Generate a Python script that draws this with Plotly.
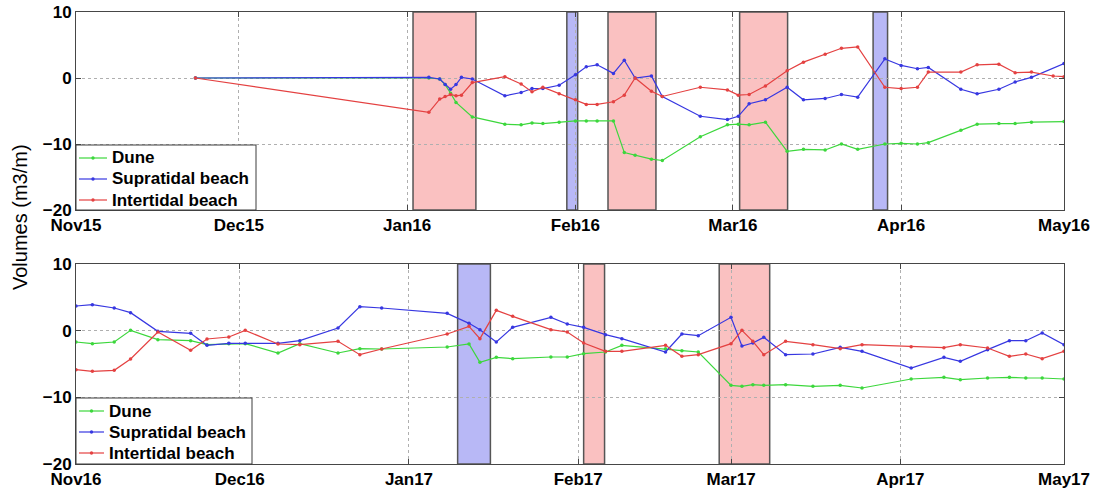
import plotly.graph_objects as go

# ---------------- Data: top panel (2015-2016) ----------------
TOP_DATES = ["2015-11-23", "2016-01-05", "2016-01-07", "2016-01-08", "2016-01-09", "2016-01-10",
             "2016-01-11", "2016-01-13", "2016-01-19", "2016-01-22", "2016-01-24", "2016-01-26",
             "2016-01-29", "2016-02-01", "2016-02-03", "2016-02-05", "2016-02-08", "2016-02-10",
             "2016-02-12", "2016-02-15", "2016-02-17", "2016-02-24", "2016-02-29", "2016-03-02",
             "2016-03-04", "2016-03-07", "2016-03-11", "2016-03-14", "2016-03-18", "2016-03-21",
             "2016-03-24", "2016-03-29", "2016-04-01", "2016-04-04", "2016-04-06", "2016-04-12",
             "2016-04-15", "2016-04-19", "2016-04-22", "2016-04-25", "2016-04-29", "2016-05-01"]
TOP_DUNE = [0, 0, -0.15, -1.0, -2.3, -3.7, None, -5.9, -7.0, -7.1, -6.8, -6.9,
            -6.7, -6.5, -6.5, -6.5, -6.5, -11.3, -11.7, -12.3, -12.5, -8.9, -7.1, -7.0,
            -7.1, -6.7, -11.1, -10.8, -10.9, -10.0, -10.8, -10.0, -9.9, -10.0, -9.8, -7.9,
            -7.0, -6.9, -6.9, -6.7, None, -6.6]
TOP_SUPRA = [0, 0.1, -0.15, -1.0, -1.7, -1.0, 0.1, -0.15, -2.7, -2.2, -1.6, -1.6,
             -1.1, 0.5, 1.7, 2.0, 0.7, 2.7, 0.0, 0.3, -2.8, -5.8, -6.3, -5.8,
             -3.9, -3.3, -1.4, -3.3, -3.1, -2.5, -2.9, 2.9, 1.9, 1.4, 1.6, -1.7,
             -2.4, -1.7, -0.6, 0.1, None, 2.2]
TOP_INTER = [0, -5.2, -3.2, -2.8, -2.5, -2.7, -2.6, -0.7, 0.2, -0.9, -2.1, -1.4,
             -2.4, -3.3, -4.0, -4.0, -3.6, -2.6, 0.0, -2.0, -2.8, -1.4, -1.8, -2.6,
             -2.5, -1.2, 1.1, 2.4, 3.6, 4.5, 4.7, -1.4, -1.6, -1.4, 0.9, 0.9,
             2.0, 2.1, 0.8, 0.9, 0.3, 0.2]
TOP_BANDS = [("2016-01-02 02:00", "2016-01-13 16:00", "red"),
             ("2016-01-30 10:00", "2016-02-01 10:00", "blue"),
             ("2016-02-07 00:00", "2016-02-15 20:00", "red"),
             ("2016-03-02 06:00", "2016-03-11 02:00", "red"),
             ("2016-03-26 20:00", "2016-03-29 12:00", "blue")]

# ---------------- Data: bottom panel (2016-2017) ----------------
BOT_DATES = ["2016-11-01", "2016-11-04", "2016-11-08", "2016-11-11", "2016-11-16", "2016-11-22",
             "2016-11-25", "2016-11-29", "2016-12-02", "2016-12-08", "2016-12-12", "2016-12-19",
             "2016-12-23", "2016-12-27", "2017-01-08", "2017-01-12", "2017-01-14", "2017-01-17",
             "2017-01-20", "2017-01-27", "2017-01-30", "2017-02-02", "2017-02-06", "2017-02-09",
             "2017-02-17", "2017-02-20", "2017-02-23", "2017-03-01", "2017-03-03", "2017-03-05",
             "2017-03-07", "2017-03-11", "2017-03-16", "2017-03-21", "2017-03-25", "2017-04-03",
             "2017-04-09", "2017-04-12", "2017-04-17", "2017-04-21", "2017-04-24", "2017-04-27",
             "2017-05-01"]
BOT_DUNE = [-1.7, -1.95, -1.7, 0.05, -1.35, -1.5, -2.1, -1.95,
            -1.95, -3.35, -1.95, -3.35, -2.7, -2.75,
            -2.45, -2.0, -4.75, -4.0, -4.2, -3.95, -3.95,
            -3.45, -3.2, -2.2, -2.7, -3.0, -3.2,
            -8.2, -8.35, -8.1, -8.2, -8.1, -8.35, -8.2, -8.6,
            -7.25, -7.0, -7.35, -7.1, -7.0, -7.1, -7.1,
            -7.25]
BOT_SUPRA = [3.7, 3.9, 3.4, 2.7, -0.1, -0.4, -2.2, -1.9,
             -1.9, -1.9, -1.5, 0.4, 3.6, 3.4,
             2.6, 1.1, 0.15, -1.7, 0.5, 2.0, 1.0,
             0.5, -0.6, -1.2, -3.2, -0.5, -0.75,
             2.0, -2.3, -1.85, -1.0, -3.6, -3.5, -2.5, -3.1,
             -5.6, -4.0, -4.6, -2.85, -1.5, -1.5, -0.35,
             -2.1]
BOT_INTER = [-5.85, -6.1, -5.95, -4.25, -0.2, -2.95, -1.25, -0.95,
             0.05, -2.0, -2.1, -1.6, -3.6, -2.75,
             -0.5, 0.65, -1.2, 3.05, 2.15, 0.15, -0.2,
             -1.85, -3.1, -3.1, -2.2, -3.85, -3.6,
             -1.95, 0.05, -1.6, -3.6, -1.6, -2.1, -2.7, -2.1,
             -2.4, -2.55, -2.1, -2.6, -3.85, -3.5, -4.2,
             -3.1]
BOT_BANDS = [("2017-01-09 22:00", "2017-01-15 22:00", "blue"),
             ("2017-02-02 00:00", "2017-02-05 20:00", "red"),
             ("2017-02-26 20:00", "2017-03-08 02:00", "red")]

SERIES = ["Dune", "Supratidal beach", "Intertidal beach"]
COLORS = ["rgb(60,215,60)", "rgb(55,55,225)", "rgb(228,65,65)"]
BAND_FILL = {"red": "rgb(250,193,193)", "blue": "rgb(184,184,246)"}
Y_TITLE = "Volumes (m3/m)"
TICK_VALS_Y = [-20, -10, 0, 10]

FONT = "Arial, Liberation Sans, sans-serif"
W, H = 1095, 490
ML, MR, MT, MB = 76, 31, 12, 26
PW, PH = W - ML - MR, H - MT - MB
TOP_DOM = [(464 - 210) / PH, 1.0]
BOT_DOM = [0.0, 200 / PH]


def px(xp):
    return (xp - ML) / PW


def py(yp):
    return (H - MB - yp) / PH


fig = go.Figure()

panels = [
    ("x", "y", TOP_DATES, [TOP_DUNE, TOP_SUPRA, TOP_INTER]),
    ("x2", "y2", BOT_DATES, [BOT_DUNE, BOT_SUPRA, BOT_INTER]),
]
for xa, ya, dates, vals in panels:
    for name, color, v in zip(SERIES, COLORS, vals):
        fig.add_trace(go.Scatter(
            x=dates, y=v, name=name, mode="lines+markers", connectgaps=True,
            line=dict(color=color, width=1.2),
            marker=dict(color=color, size=3.5, symbol="circle"),
            xaxis=xa, yaxis=ya, showlegend=False,
        ))

shapes = []
for xa, ya, bands in [("x", "y", TOP_BANDS), ("x2", "y2", BOT_BANDS)]:
    for x0, x1, c in bands:
        shapes.append(dict(type="rect", xref=xa, yref=ya + " domain", x0=x0, x1=x1, y0=0, y1=1,
                           fillcolor=BAND_FILL[c], line=dict(color="rgb(85,85,85)", width=1.5),
                           layer="below"))

# matlab-style legend boxes (one per panel)
annotations = []
legend_boxes = [
    dict(x0=76, x1=256, y0=145, y1=210, rows=[158, 179, 200], lx0=79, lx1=107, tx=110),
    dict(x0=76, x1=252, y0=398, y1=464, rows=[411, 432, 453], lx0=79, lx1=104, tx=107),
]
for lb in legend_boxes:
    shapes.append(dict(type="rect", xref="paper", yref="paper",
                       x0=px(lb["x0"]), x1=px(lb["x1"]), y0=py(lb["y1"]), y1=py(lb["y0"]),
                       fillcolor="white", line=dict(color="rgb(60,60,60)", width=1), layer="above"))
    for name, color, ry in zip(SERIES, COLORS, lb["rows"]):
        shapes.append(dict(type="line", xref="paper", yref="paper",
                           x0=px(lb["lx0"]), x1=px(lb["lx1"]), y0=py(ry), y1=py(ry),
                           line=dict(color=color, width=1.2), layer="above"))
        cx = (lb["lx0"] + lb["lx1"]) / 2
        shapes.append(dict(type="circle", xref="paper", yref="paper",
                           x0=px(cx - 1.7), x1=px(cx + 1.7), y0=py(ry + 1.7), y1=py(ry - 1.7),
                           fillcolor=color, line=dict(color=color, width=0), layer="above"))
        annotations.append(dict(text=name, xref="paper", yref="paper", x=px(lb["tx"]), y=py(ry),
                                xanchor="left", yanchor="middle", showarrow=False,
                                font=dict(family=FONT, size=17, color="black", weight="bold")))

annotations.append(dict(text=Y_TITLE, xref="paper", yref="paper", x=px(20), y=py(217),
                        xanchor="center", yanchor="middle", showarrow=False, textangle=-90,
                        font=dict(family=FONT, size=20, color="black")))

axis_common = dict(
    automargin=False,
    showline=True, linecolor="rgb(70,70,70)", linewidth=1, mirror="ticks",
    ticks="inside", ticklen=5, tickcolor="rgb(70,70,70)",
    showgrid=True, gridcolor="rgb(175,175,175)", griddash="dot", gridwidth=1,
    zeroline=False, tickfont=dict(family=FONT, size=17, color="black", weight="bold"),
)

fig.update_layout(
    width=W, height=H,
    margin=dict(l=ML, r=MR, t=MT, b=MB, autoexpand=False),
    paper_bgcolor="white", plot_bgcolor="white",
    showlegend=False,
    shapes=shapes,
    annotations=annotations,
    xaxis=dict(domain=[0, 1], anchor="y", type="date", range=["2015-11-01", "2016-05-01"],
               dtick="M1", tickformat="%b%y", **axis_common),
    yaxis=dict(domain=TOP_DOM, anchor="x", range=[-20, 10], tickvals=TICK_VALS_Y, **axis_common),
    xaxis2=dict(domain=[0, 1], anchor="y2", type="date", range=["2016-11-01", "2017-05-01"],
                dtick="M1", tickformat="%b%y", **axis_common),
    yaxis2=dict(domain=BOT_DOM, anchor="x2", range=[-20, 10], tickvals=TICK_VALS_Y, **axis_common),
)

fig.write_html("out.html", config={"displayModeBar": False},
               post_script="document.body.style.margin='0';document.body.style.overflow='hidden';")
